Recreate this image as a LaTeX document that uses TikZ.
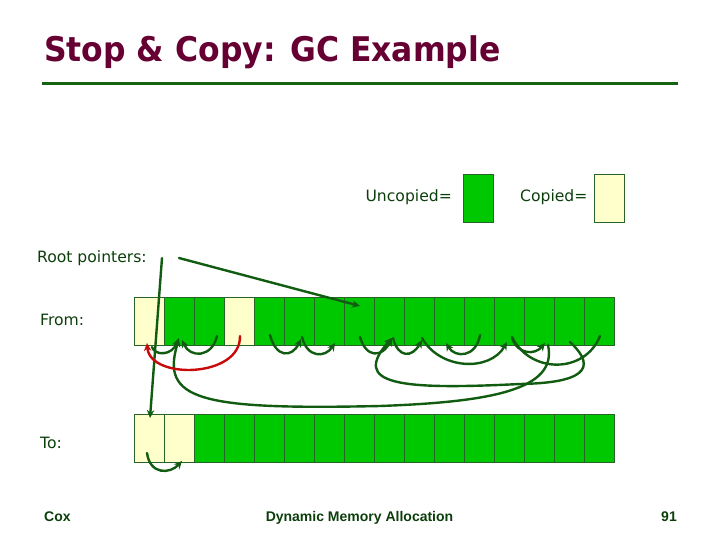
\documentclass[tikz,border=0pt]{standalone}
\usepackage{fontspec}
\usepackage{graphicx}
\setmainfont{DejaVu Sans}
\newfontfamily\footfont{Liberation Sans}
\usetikzlibrary{arrows.meta,calc}
\definecolor{titlecol}{RGB}{102,0,51}
\definecolor{rulecol}{RGB}{20,100,20}
\definecolor{labelcol}{RGB}{12,62,12}
\definecolor{unc}{RGB}{0,200,0}
\definecolor{cop}{RGB}{255,255,204}
\definecolor{cellborder}{RGB}{40,100,40}
\definecolor{arrowcol}{RGB}{18,92,18}
\definecolor{redcol}{RGB}{200,10,10}
\tikzset{
  cell/.style={draw=cellborder, line width=0.9pt, minimum width=30pt, minimum height=48pt, inner sep=0pt, outer sep=0pt},
  lbl/.style={text=labelcol, inner sep=0pt, font=\fontsize{15.6}{18}\selectfont},
  foot/.style={text=labelcol, inner sep=0pt, font=\footfont\bfseries\fontsize{14}{16}\selectfont},
  ptr/.style={draw=arrowcol, line width=2.4pt, line cap=round, -{Stealth[length=8pt,width=7.5pt]}},
  ptrplain/.style={draw=arrowcol, line width=2.4pt, line cap=round},
  redptr/.style={draw=redcol, line width=2.4pt, line cap=round, -{Stealth[length=8pt,width=7.5pt]}}
}
\begin{document}
\begin{tikzpicture}[x=1pt,y=-1pt]
\useasboundingbox (0,0) rectangle (720,540);
% title
\node[anchor=base west, inner sep=0pt, text=titlecol, font=\bfseries\fontsize{34}{40}\selectfont] (title) at (44,62) {\scalebox{0.925}[1]{Stop \& Copy: GC Example}};
\draw[rulecol, line width=3pt] (42,84) -- (678,84);
% legend
\node[lbl, anchor=base east] (unclbl) at (452,202) {Uncopied=};
\node[cell, fill=unc] (uncbox) at (478.5,198) {};
\node[lbl, anchor=base west] (coplbl) at (520,202) {Copied=};
\node[cell, fill=cop] (copbox) at (609,198) {};
% row labels
\node[lbl, anchor=base west] (rootlbl) at (37,262) {Root pointers:};
\node[lbl, anchor=base west] (fromlbl) at (40,325.5) {From:};
\node[lbl, anchor=base west] (tolbl) at (40,448) {To:};
% from space
\foreach \i/\c in {0/cop,1/unc,2/unc,3/cop,4/unc,5/unc,6/unc,7/unc,8/unc,9/unc,10/unc,11/unc,12/unc,13/unc,14/unc,15/unc}
  \node[cell, fill=\c] (f\i) at ({149+30*\i},321) {};
% to space
\foreach \i/\c in {0/cop,1/cop,2/unc,3/unc,4/unc,5/unc,6/unc,7/unc,8/unc,9/unc,10/unc,11/unc,12/unc,13/unc,14/unc,15/unc}
  \node[cell, fill=\c] (t\i) at ({149+30*\i},438) {};
% root pointers
\coordinate (r1) at (162,258);
\coordinate (r2) at (179,258);
\draw[ptr] (r1) -- ($(t0.north)+(1,4)$);
\draw[ptr] (r2) -- ($(f7.north)+(1,9)$);
% long loops
\draw[ptr] ($(f13.south)+(9,0)$) .. controls (558,390) and (490,402) .. (380,406)
  .. controls (200,410) and (160,400) .. ($(f1.south)+(0,-6)$);
\draw[ptr] ($(f14.south)+(1,-3)$) .. controls (600,370) and (580,383) .. (520,384)
  .. controls (400,390) and (350,385) .. ($(f8.south)+(3,-7)$);
% red forwarding pointer
\draw[redptr] ($(f3.south)+(1,-9)$) .. controls (241,378) and (150,380) .. ($(f0.south)+(-2,-2)$);
% short hooks in from space
\draw[ptr] ($(f0.south)+(3,2)$) .. controls (155,356) and (172,356) .. ($(f1.south)+(0,-7)$);
\draw[ptr] ($(f2.south)+(8,-9)$) .. controls (212,358) and (190,358) .. ($(f1.south)+(3,-5)$);
\draw[ptr] ($(f4.south)+(1,-10)$) .. controls (276,358) and (292,358) .. ($(f5.south)+(2,-6)$);
\draw[ptr] ($(f5.south)+(3,-8)$) .. controls (307,358) and (325,358) .. ($(f6.south)+(6,-2)$);
\draw[ptr] ($(f7.south)+(1,-8)$) .. controls (366,358) and (382,358) .. ($(f8.south)+(3,-7)$);
\draw[ptr] ($(f8.south)+(4,-7)$) .. controls (398,358) and (412,358) .. ($(f9.south)+(3,-5)$);
\draw[ptr] ($(f9.south)+(3,-7)$) .. controls (440,370) and (490,372) .. ($(f12.south)+(-2,-3)$);
\draw[ptr] ($(f11.south)+(1,-10)$) .. controls (476,358) and (455,358) .. ($(f10.south)+(-3,-2)$);
\draw[ptr] ($(f12.south)+(3,-7)$) .. controls (518,355) and (535,355) .. ($(f13.south)+(6,-2)$);
\draw[ptrplain] ($(f15.south)+(1,-9)$) .. controls (585,374) and (530,374) .. ($(f12.south)+(3,-8)$);
% hook in to space
\draw[ptr] ($(t0.south)+(-2,-9)$) .. controls (150,475) and (170,474) .. ($(t1.south)+(3,-1)$);
% footer
\node[foot, anchor=base west] (cox) at (44,521) {Cox};
\node[foot, anchor=base] (dma) at (359.5,521) {Dynamic Memory Allocation};
\node[foot, anchor=base east] (pg) at (677,521) {91};
\end{tikzpicture}
\end{document}
